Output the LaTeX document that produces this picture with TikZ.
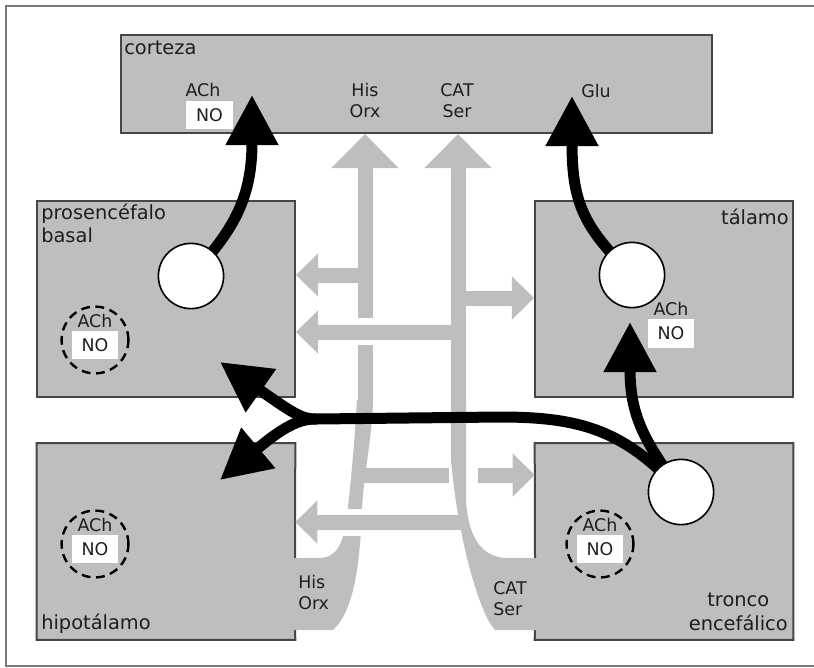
\documentclass[tikz,border=0pt]{standalone}
\usepackage{fontspec}
\setmainfont{DejaVu Sans}
\usetikzlibrary{arrows.meta}
\definecolor{boxgray}{RGB}{190,190,190}
\definecolor{rimgray}{RGB}{70,70,70}
\definecolor{inkgray}{RGB}{30,30,30}
\definecolor{framegray}{RGB}{120,120,120}
\newcommand{\namefont}{\fontsize{13.8}{16.5}\selectfont}
\newcommand{\tagfont}{\fontsize{12.4}{14.9}\selectfont}
\pgfdeclarelayer{front}
\pgfsetlayers{main,front}

\tikzstyle{region} = [fill=boxgray, inner sep=0pt, minimum width=6.45cm, minimum height=4.9cm]
\tikzstyle{rim} = [draw=rimgray, line width=0.05cm]
\tikzstyle{areaname} = [text=inkgray, font=\namefont, inner sep=0pt, align=left]
\tikzstyle{transmitter} = [text=inkgray, font=\tagfont, inner sep=0pt, align=left]
\tikzstyle{tag} = [fill=white, text=inkgray, font=\tagfont, minimum width=1.15cm, minimum height=0.72cm, inner sep=0pt]
\tikzstyle{cell} = [circle, draw, fill=white, line width=0.04cm, minimum size=1.63cm, inner sep=0pt]
\tikzstyle{pool} = [circle, draw, line width=0.06cm, dash pattern=on 0.22cm off 0.14cm, minimum size=1.67cm, inner sep=0pt]
\tikzstyle{pathway} = [line width=0.275cm, -{Triangle[length=1.25cm, width=1.25cm]}]
\tikzstyle{trunk} = [draw=boxgray, line width=0.375cm, -{Triangle[length=0.85cm, width=1.625cm]}]
\tikzstyle{branch} = [draw=boxgray, line width=0.375cm, -{Triangle[length=0.55cm, width=1.05cm]}]
\tikzstyle{gap} = [fill=white]

\begin{document}
\begin{tikzpicture}[x=0.025cm, y=-0.025cm]
\useasboundingbox (0,0) rectangle (814,667);
\draw[framegray, line width=0.04cm] (830,666) -- (6,666) -- (6,6) -- (830,6);

% regions
\node[region, rim, minimum width=14.775cm, minimum height=2.45cm] (cortex) at (416.5,84) {};
\node[region, rim] (basal) at (166,299) {};
\node[region, rim] (thal) at (664,299) {};
\node[region] (hypo) at (166,541.5) {};
\node[region] (stem) at (664,541.5) {};
\draw[rim] (295,558) -- (hypo.north east) -- (hypo.north west) -- (hypo.south west) -- (hypo.south east) -- (295,630);
\draw[rim] (535,558) -- (stem.north west) -- (stem.north east) -- (stem.south east) -- (stem.south west) -- (535,630);

% cells
\begin{pgfonlayer}{front}
\node[cell] (bfcell) at (191,276) {};
\node[cell] (thcell) at (632,275) {};
\node[cell] (bscell) at (681,492) {};
\end{pgfonlayer}

% His / Orx
\coordinate (ho0) at (365,402);
\coordinate (ho1) at (365,275);
\coordinate (ho2) at (362,475);
\fill[boxgray] (290,558) -- (320,558) .. controls (335,558) and (344,545) .. (347,515)
  .. controls (350,490) and (354,450) .. (357,400) -- (373,400)
  .. controls (372,440) and (364,470) .. (362,510) .. controls (360,560) and (355,610) .. (333,630)
  -- (290,630) -- cycle;
\draw[trunk] (ho0) -- (cortex.south -| ho0);
\draw[branch] (ho1) -- (basal.east |- ho1);
\draw[branch] (ho2) -- (stem.west |- ho2);
\fill[gap] (449,466) rectangle (478,484);

% CAT / Ser
\coordinate (cs0) at (458,402);
\coordinate (cs1) at (458,298);
\coordinate (cs2) at (458,332);
\coordinate (cs3) at (462,522);
\fill[boxgray] (451,400) -- (451,460) .. controls (458,540) and (480,615) .. (495,630)
  -- (540,630) -- (540,558) -- (505,558) .. controls (480,556) and (468,535) .. (466,500)
  -- (466,400) -- cycle;
\draw[trunk] (cs0) -- (cortex.south -| cs0);
\fill[gap] (354,318) rectangle (377,345);
\fill[gap] (337,509) rectangle (367,536);
\draw[branch] (cs1) -- (thal.west |- cs1);
\draw[branch] (cs2) -- (basal.east |- cs2);
\draw[branch] (cs3) -- (hypo.east |- cs3);

% ACh / Glu pathways
\coordinate (achtip) at (252,95);
\coordinate (glutip) at (572,96);
\coordinate (thtip) at (630,322);
\coordinate (bftip) at (220,362);
\coordinate (hytip) at (220,480);
\coordinate (split) at (316,419);
\draw[pathway] (bfcell.center) .. controls (232,232) and (252,200) .. (achtip);
\draw[pathway] (thcell.center) .. controls (585,228) and (572,205) .. (glutip);
\draw[pathway] (bscell.center) .. controls (648,445) and (630,420) .. (thtip);
\draw[pathway, -, line cap=round] (bscell.center) .. controls (625,430) and (580,417) .. (500,417) -- (split);
\draw[pathway] (split) .. controls (302,419) and (294,414) .. (bftip);
\draw[pathway] (split) .. controls (302,419) and (288,423) .. (hytip);

% pools
\foreach \n/\x/\y in {bf/95/340, hy/95/544, bs/600/544} {
  \node[pool] (\n pool) at (\x,\y) {};
  \node[transmitter, anchor=base] (\n ach) at (\x,\y-13) {ACh};
  \node[tag] (\n no) at (\x,\y+5) {NO};
}

% labels
\node[areaname, anchor=base west] (cortexname) at (124,54) {corteza};
\node[areaname, anchor=north west] (basalname) at (41,203.5) {prosencéfalo\\basal};
\node[areaname, anchor=base east] (thalname) at (789,224) {tálamo};
\node[areaname, anchor=base west] (hyponame) at (41,629) {hipotálamo};
\node[areaname, anchor=north east, align=center] (stemname) at (788,593) {tronco\\encefálico};
\node[transmitter, anchor=base] (cxach) at (203,96) {ACh};
\node[tag] (cxno) at (209.5,115) {NO};
\node[transmitter, anchor=north, align=center] (cxho) at (365,83) {His\\Orx};
\node[transmitter, anchor=north, align=center] (cxcs) at (457,83) {CAT\\Ser};
\node[transmitter, anchor=base west] (cxglu) at (581,97) {Glu};
\node[transmitter, anchor=base] (thach) at (671,315) {ACh};
\node[tag] (thno) at (671,333.5) {NO};
\node[transmitter, anchor=north west] (honame) at (298,575) {His\\Orx};
\node[transmitter, anchor=north west] (csname) at (493,581) {CAT\\Ser};
\end{tikzpicture}
\end{document}
